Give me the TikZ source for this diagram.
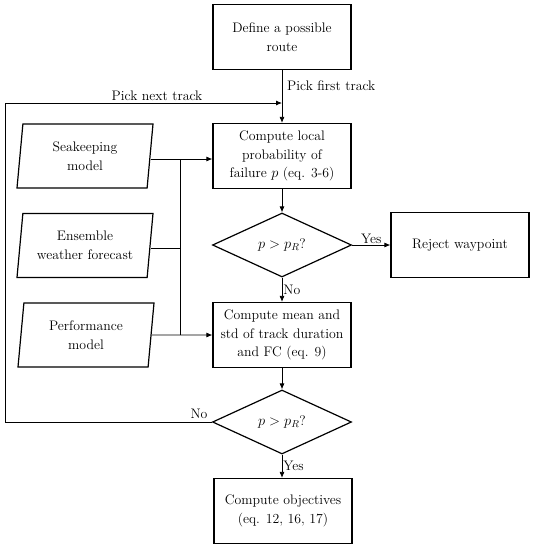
\documentclass[tikz,border=0pt]{standalone}
\usetikzlibrary{shapes.geometric,arrows.meta}
\begin{document}
\begin{tikzpicture}[x=1pt,y=-1pt,
  font=\fontsize{13.8}{18.5}\selectfont,
  procbox/.style={draw,line width=1.2pt,rectangle,minimum width=138pt,minimum height=65pt,align=center,inner sep=2pt},
  databox/.style={draw,line width=1.2pt,trapezium,trapezium left angle=79,trapezium right angle=101,trapezium stretches body,minimum width=136pt,minimum height=64pt,align=center,inner sep=1pt},
  decision/.style={draw,line width=1.2pt,diamond,aspect=2.17,minimum width=139pt,minimum height=64pt,inner sep=0pt},
  conn/.style={line width=0.8pt},
  arr/.style={conn,-{Latex[length=6pt,width=5pt]}},
  lbl/.style={inner sep=1pt}]
\useasboundingbox (0,0) rectangle (534,550);
\node[procbox] (define) at (282,37) {Define a possible\\route};
\node[procbox] (comp1) at (282,156) {Compute local\\probability of\\failure $p$ (eq. 3-6)};
\node[decision] (d1) at (282,245) {$p > p_R$?};
\node[procbox] (reject) at (460,245) {Reject waypoint};
\node[procbox] (comp2) at (282,335) {Compute mean and\\std of track duration\\and FC (eq. 9)};
\node[decision] (d2) at (282,422) {$p > p_R$?};
\node[procbox] (obj) at (283,511) {Compute objectives\\(eq. 12, 16, 17)};
\node[databox] (seak) at (85,156) {Seakeeping\\model};
\node[databox] (ens) at (85,245.5) {Ensemble\\weather forecast};
\node[databox] (perf) at (86,335) {Performance\\model};
\coordinate (merge) at (282,103);
\coordinate (bustop) at (180,159);
\coordinate (busbot) at (180,335);
\coordinate (loopbl) at (5,422);
\coordinate (looptl) at (5,103);
% connectors
\draw[arr] (define.south) -- (comp1.north);
\node[lbl,anchor=west] (pft) at (286,86) {Pick first track};
\draw[arr] (d2.west) -- (loopbl) -- (looptl) -- (merge);
\node[lbl,anchor=south] (pnt) at (157,102) {Pick next track};
\node[lbl,anchor=south] (no2) at (199,420) {No};
\draw[conn] (seak.east |- bustop) -- (bustop);
\draw[arr] (bustop) -- (comp1.west |- bustop);
\draw[conn] (ens.east |- 0,248) -- (180,248);
\draw[conn] (bustop) -- (busbot);
\draw[arr] (perf.east) -- (comp2.west);
\draw[arr] (comp1.south) -- (d1.north);
\draw[arr] (d1.east) -- node[lbl,above] (yes1) {Yes} (reject.west);
\draw[arr] (d1.south) -- node[lbl,right] (no1) {No} (comp2.north);
\draw[arr] (comp2.south) -- (d2.north);
\draw[arr] (d2.south) -- node[lbl,right] (yes2) {Yes} (obj.north -| d2.south);
\end{tikzpicture}
\end{document}
